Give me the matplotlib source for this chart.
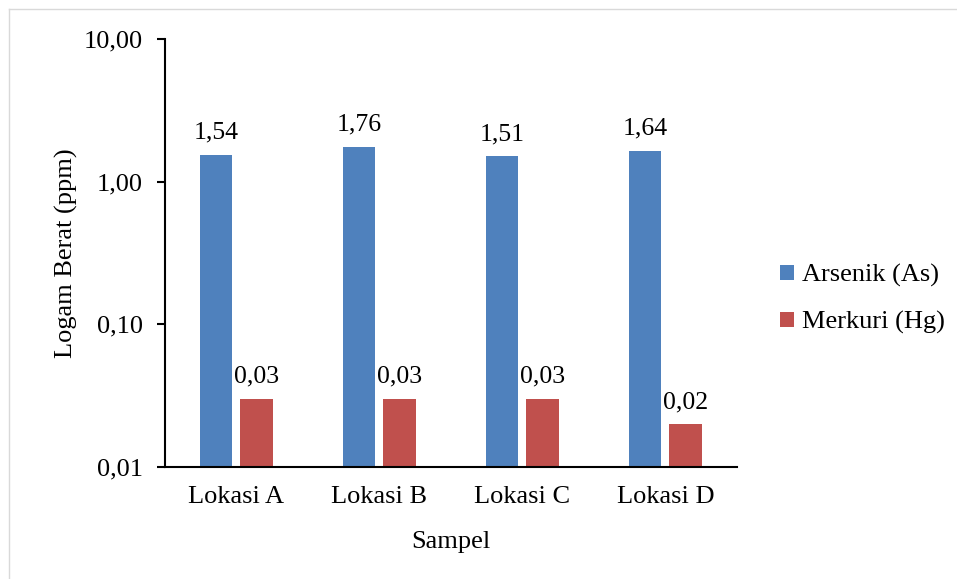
import numpy as np
import matplotlib.pyplot as plt
from matplotlib.lines import Line2D

lokasi = ['Lokasi A', 'Lokasi B', 'Lokasi C', 'Lokasi D']
arsenik = [1.54, 1.76, 1.51, 1.64]
merkuri = [0.03, 0.03, 0.03, 0.02]

plt.rcParams['font.family'] = ['Liberation Serif', 'DejaVu Serif']
fs = 19

fig = plt.figure(figsize=(9.57, 5.79), dpi=100)
ax = fig.add_axes([0.1724, 0.1934, 0.5976, 0.7392])

x = np.arange(len(lokasi))
w = 0.23
b1 = ax.bar(x - 0.143, arsenik, w, color='#4F81BD', label='Arsenik (As)')
b2 = ax.bar(x + 0.143, merkuri, w, color='#C0504D', label='Merkuri (Hg)')

def fmt(v):
    return ('%.2f' % v).replace('.', ',')

for bars, vals in [(b1, arsenik), (b2, merkuri)]:
    for r, v in zip(bars, vals):
        ax.annotate(fmt(v), (r.get_x() + r.get_width() / 2, v),
                    xytext=(0, 8), textcoords='offset points',
                    ha='center', va='bottom', fontsize=fs - 0.5)

ax.set_yscale('log')
ax.set_ylim(0.01, 10)
ax.set_xlim(-0.5, 3.5)
ax.set_yticks([0.01, 0.1, 1, 10])
ax.set_yticklabels(['0,01', '0,10', '1,00', '10,00'])
ax.minorticks_off()
ax.set_xticks(x)
ax.set_xticklabels(lokasi)
ax.tick_params(axis='x', length=0, labelsize=fs, pad=14)
ax.tick_params(axis='y', length=6, width=1.5, labelsize=fs, pad=10)
ax.spines['top'].set_visible(False)
ax.spines['right'].set_visible(False)
ax.spines['left'].set_linewidth(1.5)
ax.spines['bottom'].set_linewidth(1.5)
ax.set_xlabel('Sampel', fontsize=fs, labelpad=16)
ax.set_ylabel('Logam Berat (ppm)', fontsize=fs, labelpad=4)

ax.legend(loc='center left', bbox_to_anchor=(0.8155, 0.483), bbox_transform=fig.transFigure,
          frameon=False, fontsize=fs, handlelength=0.5, handleheight=0.5,
          handletextpad=0.3, labelspacing=0.9, borderpad=0, borderaxespad=0)

# light grey chart-area border (only left and top visible in the reference)
fig.add_artist(Line2D([9 / 957, 9 / 957], [0, 1 - 9 / 579], transform=fig.transFigure,
                      color='#D9D9D9', linewidth=1))
fig.add_artist(Line2D([9 / 957, 1], [1 - 9 / 579, 1 - 9 / 579], transform=fig.transFigure,
                      color='#D9D9D9', linewidth=1))

fig.savefig('out.png', dpi=100)
